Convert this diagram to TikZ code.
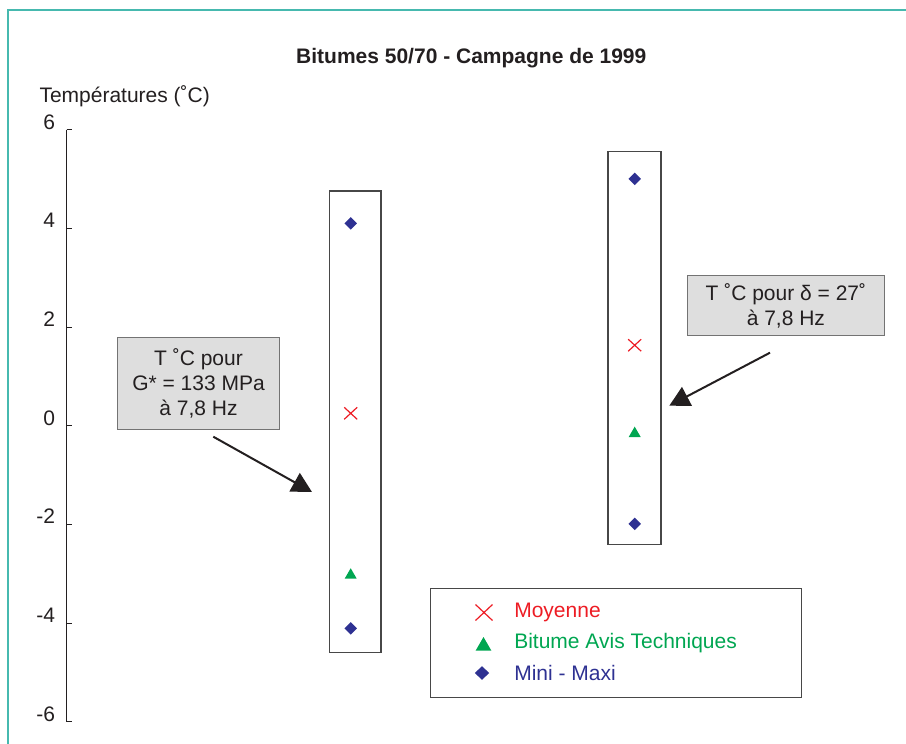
\documentclass[tikz,border=0pt]{standalone}
\usepackage{fontspec}
\setmainfont{Liberation Sans}
\usetikzlibrary{arrows.meta,shapes.geometric,shapes.misc}

\definecolor{frameteal}{RGB}{70,185,175}
\definecolor{avgred}{RGB}{237,28,36}
\definecolor{refgreen}{RGB}{0,166,81}
\definecolor{rangeblue}{RGB}{46,49,146}
\definecolor{calloutgray}{RGB}{222,222,222}
\definecolor{textdark}{RGB}{35,31,32}

\begin{document}
\begin{tikzpicture}[x=1pt,y=-1pt,
  font=\fontsize{21}{25}\selectfont, text=textdark,
  every node/.append style={inner sep=0pt, outer sep=0pt},
  avgmark/.style 2 args={cross out, draw=avgred, line width=1.2pt, minimum width=#1, minimum height=#2},
  refmark/.style={regular polygon, regular polygon sides=3, fill=refgreen, minimum size=#1, yshift=-2pt},
  rangemark/.style 2 args={diamond, fill=rangeblue, minimum width=#1, minimum height=#2},
  rangebox/.style={draw=black!72, line width=1.1pt},
  axisline/.style={draw=textdark, line width=0.9pt},
  callout/.style={draw=black!55, fill=calloutgray, line width=1pt, align=center},
  pointer/.style={draw=textdark, fill=textdark, line width=2pt, -{Triangle[length=20pt,width=21pt]}},
  legendtext/.style={anchor=base west},
  ticklabel/.style={anchor=base east}
]
\useasboundingbox (0,0) rectangle (906,744);

% outer frame
\draw[frameteal, line width=2pt] (8,746) -- (8,10) -- (908,10);

% title and axis label
\node[anchor=base, font=\fontsize{21}{25}\selectfont\bfseries] (title) at (471.3,63.5) {Bitumes 50/70 - Campagne de 1999};
\node[anchor=base west] (ylabel) at (39.5,102.5) {Températures (˚C)};

% vertical temperature axis
\coordinate (axtop) at (66.5,129.6);
\coordinate (axbot) at (66.5,721.7);
\draw[axisline] (axtop) -- (axbot);
\foreach \v [count=\i] in {6,4,2,0,-2,-4,-6} {
  \pgfmathsetmacro{\yy}{425.65-49.34*\v}
  \draw[axisline] (66.5,\yy) -- (71.5,\yy);
  \node[ticklabel] (tick\i) at (55,\yy-0.5) {\v};
}

% data in temperature units
\begin{scope}[shift={(0,425.65)}, y=49.34pt]
  % G* = 133 MPa campaign
  \draw[rangebox] (329.5,4.755) rectangle (381,-4.6);
  \node[rangemark={12.5pt}{12.5pt}] (gmax) at (350.7,4.10) {};
  \node[avgmark={13pt}{12pt}] (gavg) at (350.7,0.25) {};
  \node[refmark=13.9pt] (gref) at (350.7,-2.99) {};
  \node[rangemark={12.5pt}{12.5pt}] (gmin) at (350.7,-4.11) {};
  % delta = 27 degrees campaign
  \draw[rangebox] (608,5.55) rectangle (661,-2.40);
  \node[rangemark={12.5pt}{12.5pt}] (dmax) at (634.7,5.00) {};
  \node[avgmark={13pt}{12pt}] (davg) at (634.7,1.63) {};
  \node[refmark=13.9pt] (dref) at (634.7,-0.12) {};
  \node[rangemark={12.5pt}{12.5pt}] (dmin) at (634.7,-1.99) {};
\end{scope}

% callouts with pointers
\node[callout, minimum width=161.6pt, minimum height=92pt] (callG) at (198.5,383.3)
  {T ˚C pour\\G* = 133 MPa\\à 7,8 Hz};
\coordinate (callGfrom) at (213.3,436.7);
\coordinate (callGto) at (312,492);
\draw[pointer] (callGfrom) -- (callGto);

\node[callout, minimum width=196.3pt, minimum height=60.7pt] (callD) at (785.9,305.4)
  {T ˚C pour δ = 27˚\\à 7,8 Hz};
\coordinate (callDfrom) at (770,352.7);
\coordinate (callDto) at (669.3,405.7);
\draw[pointer] (callDfrom) -- (callDto);

% legend
\draw[rangebox, line width=1pt] (430.7,588.3) rectangle (801,697.3);
\node[avgmark={17pt}{16pt}] (legavg) at (484,612.5) {};
\node[legendtext, text=avgred] (legavgtext) at (514.3,617.3) {Moyenne};
\node[refmark=18pt] (legref) at (483.5,644) {};
\node[legendtext, text=refgreen] (legreftext) at (514.3,648.3) {Bitume Avis Techniques};
\node[rangemark={14.5pt}{13.5pt}] (legrange) at (482,673) {};
\node[legendtext, text=rangeblue] (legrangetext) at (514.3,680) {Mini - Maxi};
\end{tikzpicture}
\end{document}
